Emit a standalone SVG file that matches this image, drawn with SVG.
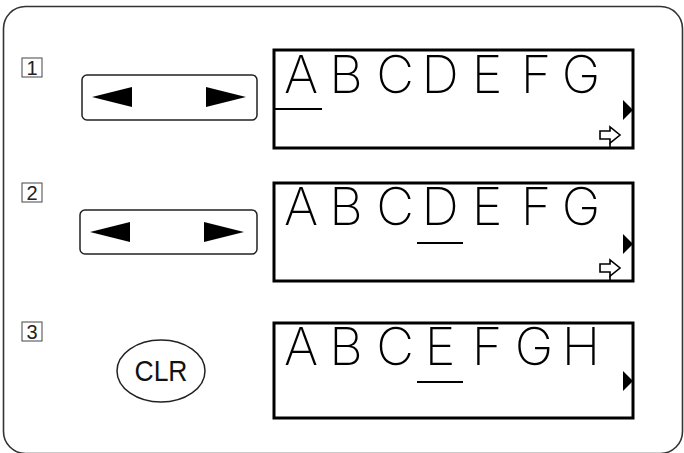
<svg xmlns="http://www.w3.org/2000/svg" width="684" height="453" viewBox="0 0 684 453">
<style>
.frame{fill:none;stroke:#333;stroke-width:1.6}
.num{fill:#fff;stroke:#444;stroke-width:1}
.numt{font-family:"Liberation Sans",Arial,sans-serif;font-size:20px;fill:#222;text-anchor:middle}
.btn{fill:#fff;stroke:#222;stroke-width:1.5}
.lcd{fill:#fff;stroke:#000;stroke-width:3}
.ch{font-family:Inter,Roboto,Lato,"DejaVu Sans",sans-serif;font-weight:200;font-size:52px;fill:#000;text-anchor:middle}
.ul{stroke:#000;stroke-width:2}
.tri{fill:#000}
.hol{fill:#fff;stroke:#000;stroke-width:1.6;stroke-linejoin:miter}
.clr{font-family:"Liberation Sans",Arial,sans-serif;font-size:29px;fill:#111;text-anchor:middle}
</style>
<defs>
<g id="arrows">
<polygon class="tri" points="12,0 52,-10 52,10"/>
<polygon class="tri" points="166,0 126,-10 126,10"/>
</g>
<polygon id="hollow" class="hol" points="-10,-4 0,-4 0,-8 10,0 0,8 0,4 -10,4"/>
</defs>
<rect class="frame" x="3.5" y="6.5" width="679" height="447" rx="22"/>

<g id="step1">
<rect class="num" x="22" y="58" width="20" height="19"/>
<text class="numt" x="32" y="75">1</text>
</g>
<g id="step2">
<rect class="num" x="22" y="183" width="20" height="19"/>
<text class="numt" x="32" y="200">2</text>
</g>
<g id="step3">
<rect class="num" x="22" y="322" width="20" height="19"/>
<text class="numt" x="32" y="339">3</text>
</g>

<g id="button1">
<rect class="btn" x="82" y="75" width="175" height="45" rx="5"/>
<use href="#arrows" x="80" y="97"/>
</g>
<g id="button2">
<rect class="btn" x="80" y="210" width="177" height="44" rx="5"/>
<use href="#arrows" x="78" y="232"/>
</g>
<g id="clr">
<ellipse class="btn" cx="161" cy="371" rx="44" ry="31"/>
<text class="clr" x="161" y="381" textLength="53" lengthAdjust="spacingAndGlyphs">CLR</text>
</g>

<g id="lcd1">
<rect class="lcd" x="274" y="50" width="359" height="98"/>
<text class="ch" x="301" y="93">A</text>
<text class="ch" x="346" y="93">B</text>
<text class="ch" x="395" y="93">C</text>
<text class="ch" x="440" y="93">D</text>
<text class="ch" x="487" y="93">E</text>
<text class="ch" x="536" y="93">F</text>
<text class="ch" x="581" y="93">G</text>
<line class="ul" x1="274" y1="109" x2="322" y2="109"/>
<polygon class="tri" points="623,100 633,110 623,120"/>
<use href="#hollow" x="610" y="135"/>
<line class="ul" x1="610" y1="143" x2="610" y2="148" style="stroke-width:1.6"/>
</g>

<g id="lcd2">
<rect class="lcd" x="274" y="183" width="359" height="98"/>
<text class="ch" x="301" y="225">A</text>
<text class="ch" x="346" y="225">B</text>
<text class="ch" x="395" y="225">C</text>
<text class="ch" x="440" y="225">D</text>
<text class="ch" x="487" y="225">E</text>
<text class="ch" x="536" y="225">F</text>
<text class="ch" x="581" y="225">G</text>
<line class="ul" x1="417" y1="243" x2="463" y2="243"/>
<polygon class="tri" points="623,234 633,244 623,254"/>
<use href="#hollow" x="610" y="268"/>
<line class="ul" x1="610" y1="276" x2="610" y2="281" style="stroke-width:1.6"/>
</g>

<g id="lcd3">
<rect class="lcd" x="274" y="323" width="359" height="95"/>
<text class="ch" x="301" y="365">A</text>
<text class="ch" x="346" y="365">B</text>
<text class="ch" x="395" y="365">C</text>
<text class="ch" x="440" y="365">E</text>
<text class="ch" x="487" y="365">F</text>
<text class="ch" x="534" y="365">G</text>
<text class="ch" x="581" y="365">H</text>
<line class="ul" x1="417" y1="382" x2="463" y2="382"/>
<polygon class="tri" points="623,371 633,381 623,391"/>
</g>
<g id="connectors"/>
</svg>
